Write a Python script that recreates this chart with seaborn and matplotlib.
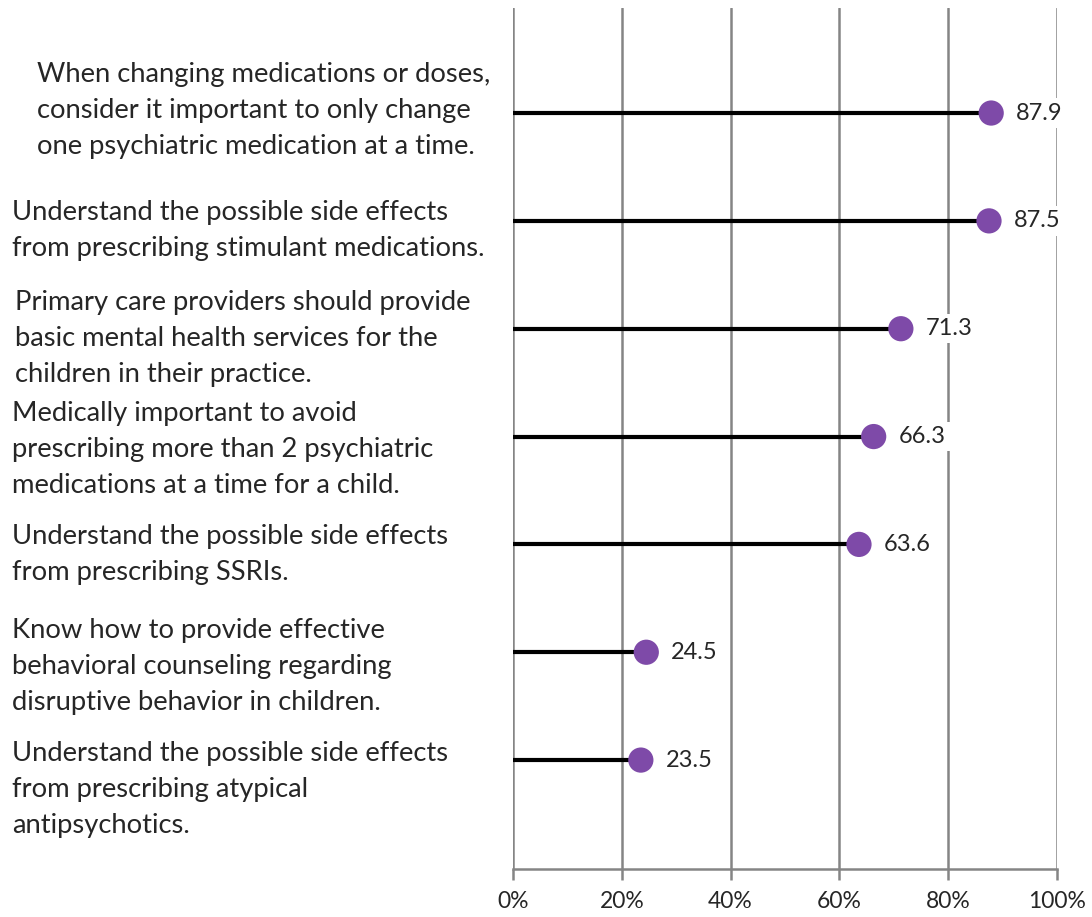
import matplotlib
matplotlib.use('Agg')
import matplotlib.pyplot as plt
import matplotlib.transforms as mtransforms
import numpy as np
import pandas as pd
import seaborn as sns

statements = [
    'When changing medications or doses,\nconsider it important to only change\none psychiatric medication at a time.',
    'Understand the possible side effects\nfrom prescribing stimulant medications.',
    'Primary care providers should provide\nbasic mental health services for the\nchildren in their practice.',
    'Medically important to avoid\nprescribing more than 2 psychiatric\nmedications at a time for a child.',
    'Understand the possible side effects\nfrom prescribing SSRIs.',
    'Know how to provide effective\nbehavioral counseling regarding\ndisruptive behavior in children.',
    'Understand the possible side effects\nfrom prescribing atypical\nantipsychotics.',
]
percent = [87.9, 87.5, 71.3, 66.3, 63.6, 24.5, 23.5]
xticks = [0, 20, 40, 60, 80, 100]

# label placement (figure x pixel, y offset in category units)
label_x = [37, 12, 15, 12, 12, 12, 12]
label_dy = [-0.02, 0.09, 0.09, 0.12, 0.09, 0.13, 0.27]

sns.set_theme(style='white')
plt.rcParams['font.family'] = ['Lato', 'DejaVu Sans']

W, H = 1092, 917
fig = plt.figure(figsize=(W / 100, H / 100), dpi=100)
ax = fig.add_axes([513 / W, 1 - 869 / H, (1057 - 513) / W, (869 - 8) / H])

df = pd.DataFrame({'item': np.arange(len(percent)), 'pct': percent})

for x in xticks:
    ax.axvline(x, color='#858585', lw=1.8, zorder=1)

ax.hlines(df['item'], 0, df['pct'], color='black', lw=3, zorder=2)
sns.scatterplot(data=df, x='pct', y='item', color='#7E4AA8', s=330,
                edgecolor='none', zorder=3, ax=ax, legend=False)

for i, v in zip(df['item'], df['pct']):
    ax.text(v + 4.6, i, f'{v:.1f}', fontsize=17, va='center', ha='left',
            bbox=dict(facecolor='white', edgecolor='none', pad=3), zorder=4)

ax.set_xlim(0, 100)
ax.set_ylim(7.01, -0.974)
ax.set_xticks(xticks)
ax.set_xticklabels([f'{x}%' for x in xticks], fontsize=16.5)
ax.set_yticks([])
ax.set_xlabel('')
ax.set_ylabel('')
for s in ['top', 'right', 'left']:
    ax.spines[s].set_visible(False)
ax.spines['bottom'].set_color('#858585')
ax.spines['bottom'].set_linewidth(1.8)
ax.tick_params(axis='x', direction='out', length=8, width=1.8, color='#858585',
               pad=8, bottom=True)

trans = mtransforms.blended_transform_factory(fig.transFigure, ax.transData)
for i, txt in enumerate(statements):
    fig.text(label_x[i] / W, i + label_dy[i], txt, transform=trans,
             fontsize=19.7, va='center', ha='left', linespacing=1.55)

fig.savefig('out.png', dpi=100)
